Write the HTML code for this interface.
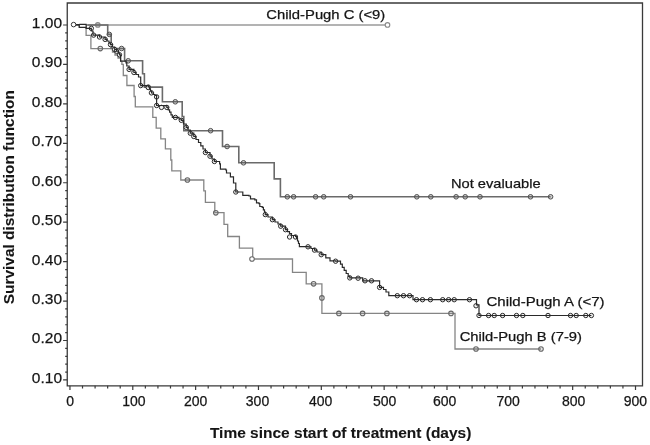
<!DOCTYPE html>
<html><head><meta charset="utf-8"><style>
html,body{margin:0;padding:0;background:#fff;width:650px;height:445px;overflow:hidden}
svg{display:block;will-change:transform}
text{font-family:"Liberation Sans",sans-serif;fill:#151515;stroke:#151515;stroke-width:0.25px}
.yl{font-size:15.5px;text-anchor:end}
.xl{font-size:14px;text-anchor:end}
.tt{font-size:14.6px;font-weight:bold;fill:#151515;stroke-width:0.1px}
.lb{font-size:13.4px}
</style></head><body>
<svg width="650" height="445" viewBox="0 0 650 445">
<path d="M67.25 3 H642.5 V385.8 H67.25 Z" fill="none" stroke="#3a3a3a" stroke-width="1.3"/>
<path d="M63.1 379.96H67.3M65.2 372.07H67.3M65.2 364.18H67.3M65.2 356.30H67.3M65.2 348.41H67.3M63.1 340.52H67.3M65.2 332.63H67.3M65.2 324.74H67.3M65.2 316.86H67.3M65.2 308.97H67.3M63.1 301.08H67.3M65.2 293.19H67.3M65.2 285.30H67.3M65.2 277.42H67.3M65.2 269.53H67.3M63.1 261.64H67.3M65.2 253.75H67.3M65.2 245.86H67.3M65.2 237.98H67.3M65.2 230.09H67.3M63.1 222.20H67.3M65.2 214.31H67.3M65.2 206.42H67.3M65.2 198.54H67.3M65.2 190.65H67.3M63.1 182.76H67.3M65.2 174.87H67.3M65.2 166.98H67.3M65.2 159.10H67.3M65.2 151.21H67.3M63.1 143.32H67.3M65.2 135.43H67.3M65.2 127.54H67.3M65.2 119.66H67.3M65.2 111.77H67.3M63.1 103.88H67.3M65.2 95.99H67.3M65.2 88.10H67.3M65.2 80.22H67.3M65.2 72.33H67.3M63.1 64.44H67.3M65.2 56.55H67.3M65.2 48.66H67.3M65.2 40.78H67.3M65.2 32.89H67.3M63.1 25.00H67.3M69.95 385.8V389.9M82.52 385.8V388.4M95.09 385.8V388.4M107.65 385.8V388.4M120.22 385.8V388.4M132.79 385.8V389.9M145.36 385.8V388.4M157.93 385.8V388.4M170.49 385.8V388.4M183.06 385.8V388.4M195.63 385.8V389.9M208.20 385.8V388.4M220.77 385.8V388.4M233.33 385.8V388.4M245.90 385.8V388.4M258.47 385.8V389.9M271.04 385.8V388.4M283.61 385.8V388.4M296.17 385.8V388.4M308.74 385.8V388.4M321.31 385.8V389.9M333.88 385.8V388.4M346.45 385.8V388.4M359.01 385.8V388.4M371.58 385.8V388.4M384.15 385.8V389.9M396.72 385.8V388.4M409.29 385.8V388.4M421.85 385.8V388.4M434.42 385.8V388.4M446.99 385.8V389.9M459.56 385.8V388.4M472.13 385.8V388.4M484.69 385.8V388.4M497.26 385.8V388.4M509.83 385.8V389.9M522.40 385.8V388.4M534.97 385.8V388.4M547.53 385.8V388.4M560.10 385.8V388.4M572.67 385.8V389.9M585.24 385.8V388.4M597.81 385.8V388.4M610.37 385.8V388.4M622.94 385.8V388.4M635.51 385.8V389.9" stroke="#3a3a3a" stroke-width="1.2" fill="none"/>
<text x="62.0" y="382.86" class="yl">0.10</text>
<text x="62.0" y="343.42" class="yl">0.20</text>
<text x="62.0" y="303.98" class="yl">0.30</text>
<text x="62.0" y="264.54" class="yl">0.40</text>
<text x="62.0" y="225.10" class="yl">0.50</text>
<text x="62.0" y="185.66" class="yl">0.60</text>
<text x="62.0" y="146.22" class="yl">0.70</text>
<text x="62.0" y="106.78" class="yl">0.80</text>
<text x="62.0" y="67.34" class="yl">0.90</text>
<text x="62.0" y="27.90" class="yl">1.00</text>
<text x="74.00" y="405.6" class="xl">0</text>
<text x="145.60" y="405.6" class="xl">100</text>
<text x="207.40" y="405.6" class="xl">200</text>
<text x="269.20" y="405.6" class="xl">300</text>
<text x="332.40" y="405.6" class="xl">400</text>
<text x="396.40" y="405.6" class="xl">500</text>
<text x="456.40" y="405.6" class="xl">600</text>
<text x="519.90" y="405.6" class="xl">700</text>
<text x="585.40" y="405.6" class="xl">800</text>
<text x="647.10" y="405.6" class="xl">900</text>
<text x="209.9" y="437.9" class="tt" textLength="261.5" lengthAdjust="spacingAndGlyphs">Time since start of treatment (days)</text>
<text transform="translate(14.1 304.2) rotate(-90)" x="0" y="0" class="tt" textLength="214.1" lengthAdjust="spacingAndGlyphs">Survival distribution function</text>
<text x="266.3" y="19.1" class="lb" textLength="119.0" lengthAdjust="spacingAndGlyphs">Child-Pugh C (&lt;9)</text>
<text x="451.0" y="187.5" class="lb" textLength="89.6" lengthAdjust="spacingAndGlyphs">Not evaluable</text>
<text x="486.5" y="305.7" class="lb" textLength="118.0" lengthAdjust="spacingAndGlyphs">Child-Pugh A (&lt;7)</text>
<text x="459.7" y="340.6" class="lb" textLength="122.3" lengthAdjust="spacingAndGlyphs">Child-Pugh B (7-9)</text>
<circle cx="97.8" cy="24.9" r="2.3" fill="#c8c8c8" stroke="none" stroke-width="0"/><circle cx="387.5" cy="24.9" r="2.3" fill="#fff" stroke="none" stroke-width="0"/>
<path d="M88 25.0H387.3" stroke="#9a9a9a" stroke-width="1.6" fill="none"/>
<circle cx="97.8" cy="24.9" r="2.3" fill="none" stroke="#8a8a8a" stroke-width="1.1"/><circle cx="387.5" cy="24.9" r="2.3" fill="#fff" stroke="#8a8a8a" stroke-width="1.1"/>
<circle cx="100.3" cy="48.6" r="2.3" fill="#e6e6e6" stroke="none" stroke-width="0"/><circle cx="187.4" cy="180.0" r="2.3" fill="#e6e6e6" stroke="none" stroke-width="0"/><circle cx="215.8" cy="212.8" r="2.3" fill="#e6e6e6" stroke="none" stroke-width="0"/><circle cx="252.0" cy="259.0" r="2.3" fill="#fff" stroke="none" stroke-width="0"/><circle cx="313.6" cy="283.8" r="2.3" fill="#e6e6e6" stroke="none" stroke-width="0"/><circle cx="321.9" cy="297.9" r="2.3" fill="#e6e6e6" stroke="none" stroke-width="0"/><circle cx="338.9" cy="313.4" r="2.3" fill="#e6e6e6" stroke="none" stroke-width="0"/><circle cx="362.6" cy="313.4" r="2.3" fill="#e6e6e6" stroke="none" stroke-width="0"/><circle cx="386.9" cy="313.4" r="2.3" fill="#e6e6e6" stroke="none" stroke-width="0"/><circle cx="451.0" cy="313.4" r="2.3" fill="#e6e6e6" stroke="none" stroke-width="0"/><circle cx="476.0" cy="349.0" r="2.3" fill="#e6e6e6" stroke="none" stroke-width="0"/><circle cx="541.0" cy="349.0" r="2.3" fill="#e6e6e6" stroke="none" stroke-width="0"/>
<path d="M75.0 25.0H86.1V35.4H90.9V48.6H112.5V52.0H115.0V55.0H118.0V58.0H120.6V61.2H121.9V64.4H123.3V75.5H126.9V85.5H134.1V96.5H135.3V106.8H152.8V117.3H156.2V128.1H160.8V138.8H165.4V148.8H170.8V160.0H171.8V170.8H180.8V180.0H203.8V190.8H205.4V202.3H214.8V212.7H224.0V224.4H227.7V236.5H239.4V248.1H252.7V259.0H292.5V272.4H306.2V283.8H321.9V313.4H455.0V349.0H541.0V349.0" stroke="#858585" stroke-width="1.3" fill="none"/>
<circle cx="100.3" cy="48.6" r="2.3" fill="none" stroke="#666" stroke-width="1.05"/><circle cx="187.4" cy="180.0" r="2.3" fill="none" stroke="#666" stroke-width="1.05"/><circle cx="215.8" cy="212.8" r="2.3" fill="none" stroke="#666" stroke-width="1.05"/><circle cx="252.0" cy="259.0" r="2.3" fill="#fff" stroke="#666" stroke-width="1.05"/><circle cx="313.6" cy="283.8" r="2.3" fill="none" stroke="#666" stroke-width="1.05"/><circle cx="321.9" cy="297.9" r="2.3" fill="none" stroke="#666" stroke-width="1.05"/><circle cx="338.9" cy="313.4" r="2.3" fill="none" stroke="#666" stroke-width="1.05"/><circle cx="362.6" cy="313.4" r="2.3" fill="none" stroke="#666" stroke-width="1.05"/><circle cx="386.9" cy="313.4" r="2.3" fill="none" stroke="#666" stroke-width="1.05"/><circle cx="451.0" cy="313.4" r="2.3" fill="none" stroke="#666" stroke-width="1.05"/><circle cx="476.0" cy="349.0" r="2.3" fill="none" stroke="#666" stroke-width="1.05"/><circle cx="541.0" cy="349.0" r="2.3" fill="none" stroke="#666" stroke-width="1.05"/>
<circle cx="109.3" cy="34.4" r="2.3" fill="#d0d0d0" stroke="none" stroke-width="0"/><circle cx="121.6" cy="48.5" r="2.3" fill="#d0d0d0" stroke="none" stroke-width="0"/><circle cx="128.2" cy="60.8" r="2.3" fill="#d0d0d0" stroke="none" stroke-width="0"/><circle cx="148.2" cy="87.1" r="2.3" fill="#d0d0d0" stroke="none" stroke-width="0"/><circle cx="175.3" cy="101.8" r="2.3" fill="#d0d0d0" stroke="none" stroke-width="0"/><circle cx="210.6" cy="130.7" r="2.3" fill="#d0d0d0" stroke="none" stroke-width="0"/><circle cx="227.1" cy="146.5" r="2.3" fill="#d0d0d0" stroke="none" stroke-width="0"/><circle cx="243.5" cy="162.8" r="2.3" fill="#d0d0d0" stroke="none" stroke-width="0"/><circle cx="287.3" cy="196.8" r="2.3" fill="#d0d0d0" stroke="none" stroke-width="0"/><circle cx="293.6" cy="196.8" r="2.3" fill="#d0d0d0" stroke="none" stroke-width="0"/><circle cx="315.6" cy="196.8" r="2.3" fill="#d0d0d0" stroke="none" stroke-width="0"/><circle cx="323.7" cy="196.8" r="2.3" fill="#d0d0d0" stroke="none" stroke-width="0"/><circle cx="350.5" cy="196.8" r="2.3" fill="#d0d0d0" stroke="none" stroke-width="0"/><circle cx="416.8" cy="196.8" r="2.3" fill="#d0d0d0" stroke="none" stroke-width="0"/><circle cx="430.8" cy="196.8" r="2.3" fill="#d0d0d0" stroke="none" stroke-width="0"/><circle cx="456.1" cy="196.8" r="2.3" fill="#d0d0d0" stroke="none" stroke-width="0"/><circle cx="465.2" cy="196.8" r="2.3" fill="#d0d0d0" stroke="none" stroke-width="0"/><circle cx="480.0" cy="196.8" r="2.3" fill="#d0d0d0" stroke="none" stroke-width="0"/><circle cx="530.5" cy="196.8" r="2.3" fill="#d0d0d0" stroke="none" stroke-width="0"/><circle cx="550.6" cy="196.8" r="2.3" fill="#d0d0d0" stroke="none" stroke-width="0"/>
<path d="M75.0 25.0H107.7V34.4H111.2V48.5H124.6V60.8H142.6V73.8H144.4V87.1H162.4V101.8H182.2V116.5H183.8V130.7H222.5V146.5H238.8V162.8H274.2V178.9H280.4V196.8H550.6V196.8" stroke="#6a6a6a" stroke-width="1.6" fill="none"/>
<circle cx="109.3" cy="34.4" r="2.3" fill="none" stroke="#505050" stroke-width="1.0"/><circle cx="121.6" cy="48.5" r="2.3" fill="none" stroke="#505050" stroke-width="1.0"/><circle cx="128.2" cy="60.8" r="2.3" fill="none" stroke="#505050" stroke-width="1.0"/><circle cx="148.2" cy="87.1" r="2.3" fill="none" stroke="#505050" stroke-width="1.0"/><circle cx="175.3" cy="101.8" r="2.3" fill="none" stroke="#505050" stroke-width="1.0"/><circle cx="210.6" cy="130.7" r="2.3" fill="none" stroke="#505050" stroke-width="1.0"/><circle cx="227.1" cy="146.5" r="2.3" fill="none" stroke="#505050" stroke-width="1.0"/><circle cx="243.5" cy="162.8" r="2.3" fill="none" stroke="#505050" stroke-width="1.0"/><circle cx="287.3" cy="196.8" r="2.3" fill="none" stroke="#505050" stroke-width="1.0"/><circle cx="293.6" cy="196.8" r="2.3" fill="none" stroke="#505050" stroke-width="1.0"/><circle cx="315.6" cy="196.8" r="2.3" fill="none" stroke="#505050" stroke-width="1.0"/><circle cx="323.7" cy="196.8" r="2.3" fill="none" stroke="#505050" stroke-width="1.0"/><circle cx="350.5" cy="196.8" r="2.3" fill="none" stroke="#505050" stroke-width="1.0"/><circle cx="416.8" cy="196.8" r="2.3" fill="none" stroke="#505050" stroke-width="1.0"/><circle cx="430.8" cy="196.8" r="2.3" fill="none" stroke="#505050" stroke-width="1.0"/><circle cx="456.1" cy="196.8" r="2.3" fill="none" stroke="#505050" stroke-width="1.0"/><circle cx="465.2" cy="196.8" r="2.3" fill="none" stroke="#505050" stroke-width="1.0"/><circle cx="480.0" cy="196.8" r="2.3" fill="none" stroke="#505050" stroke-width="1.0"/><circle cx="530.5" cy="196.8" r="2.3" fill="none" stroke="#505050" stroke-width="1.0"/><circle cx="550.6" cy="196.8" r="2.3" fill="none" stroke="#505050" stroke-width="1.0"/>
<circle cx="91.3" cy="28.3" r="2.2" fill="#f2f2f2" stroke="none" stroke-width="0"/><circle cx="93.6" cy="35.1" r="2.2" fill="#f2f2f2" stroke="none" stroke-width="0"/><circle cx="99.5" cy="37.0" r="2.2" fill="#f2f2f2" stroke="none" stroke-width="0"/><circle cx="105.1" cy="39.4" r="2.2" fill="#f2f2f2" stroke="none" stroke-width="0"/><circle cx="110.5" cy="44.6" r="2.2" fill="#f2f2f2" stroke="none" stroke-width="0"/><circle cx="114.7" cy="49.5" r="2.2" fill="#f2f2f2" stroke="none" stroke-width="0"/><circle cx="116.6" cy="51.2" r="2.2" fill="#f2f2f2" stroke="none" stroke-width="0"/><circle cx="119.5" cy="54.8" r="2.2" fill="#f2f2f2" stroke="none" stroke-width="0"/><circle cx="129.1" cy="69.4" r="2.2" fill="#f2f2f2" stroke="none" stroke-width="0"/><circle cx="133.9" cy="72.5" r="2.2" fill="#f2f2f2" stroke="none" stroke-width="0"/><circle cx="140.7" cy="85.6" r="2.2" fill="#f2f2f2" stroke="none" stroke-width="0"/><circle cx="148.3" cy="87.5" r="2.2" fill="#f2f2f2" stroke="none" stroke-width="0"/><circle cx="151.4" cy="92.9" r="2.2" fill="#f2f2f2" stroke="none" stroke-width="0"/><circle cx="156.6" cy="96.9" r="2.2" fill="#f2f2f2" stroke="none" stroke-width="0"/><circle cx="156.6" cy="105.5" r="2.2" fill="#f2f2f2" stroke="none" stroke-width="0"/><circle cx="161.5" cy="107.4" r="2.2" fill="#f2f2f2" stroke="none" stroke-width="0"/><circle cx="166.8" cy="107.4" r="2.2" fill="#f2f2f2" stroke="none" stroke-width="0"/><circle cx="175.4" cy="117.4" r="2.2" fill="#f2f2f2" stroke="none" stroke-width="0"/><circle cx="181.3" cy="120.3" r="2.2" fill="#f2f2f2" stroke="none" stroke-width="0"/><circle cx="186.2" cy="127.3" r="2.2" fill="#f2f2f2" stroke="none" stroke-width="0"/><circle cx="190.3" cy="133.2" r="2.2" fill="#f2f2f2" stroke="none" stroke-width="0"/><circle cx="193.8" cy="136.5" r="2.2" fill="#f2f2f2" stroke="none" stroke-width="0"/><circle cx="205.4" cy="152.5" r="2.2" fill="#f2f2f2" stroke="none" stroke-width="0"/><circle cx="210.0" cy="156.2" r="2.2" fill="#f2f2f2" stroke="none" stroke-width="0"/><circle cx="214.4" cy="161.5" r="2.2" fill="#f2f2f2" stroke="none" stroke-width="0"/><circle cx="235.8" cy="192.0" r="2.2" fill="#f2f2f2" stroke="none" stroke-width="0"/><circle cx="265.3" cy="214.6" r="2.2" fill="#f2f2f2" stroke="none" stroke-width="0"/><circle cx="272.4" cy="219.7" r="2.2" fill="#f2f2f2" stroke="none" stroke-width="0"/><circle cx="280.7" cy="226.2" r="2.2" fill="#f2f2f2" stroke="none" stroke-width="0"/><circle cx="285.5" cy="229.7" r="2.2" fill="#f2f2f2" stroke="none" stroke-width="0"/><circle cx="289.6" cy="237.0" r="2.2" fill="#f2f2f2" stroke="none" stroke-width="0"/><circle cx="295.5" cy="237.0" r="2.2" fill="#f2f2f2" stroke="none" stroke-width="0"/><circle cx="308.0" cy="246.8" r="2.2" fill="#f2f2f2" stroke="none" stroke-width="0"/><circle cx="314.5" cy="250.1" r="2.2" fill="#f2f2f2" stroke="none" stroke-width="0"/><circle cx="321.2" cy="254.7" r="2.2" fill="#f2f2f2" stroke="none" stroke-width="0"/><circle cx="335.6" cy="261.2" r="2.2" fill="#f2f2f2" stroke="none" stroke-width="0"/><circle cx="349.8" cy="277.9" r="2.2" fill="#f2f2f2" stroke="none" stroke-width="0"/><circle cx="358.1" cy="278.2" r="2.2" fill="#f2f2f2" stroke="none" stroke-width="0"/><circle cx="365.0" cy="280.8" r="2.2" fill="#f2f2f2" stroke="none" stroke-width="0"/><circle cx="371.5" cy="280.8" r="2.2" fill="#f2f2f2" stroke="none" stroke-width="0"/><circle cx="379.6" cy="287.4" r="2.2" fill="#f2f2f2" stroke="none" stroke-width="0"/><circle cx="397.3" cy="295.7" r="2.2" fill="#f2f2f2" stroke="none" stroke-width="0"/><circle cx="403.5" cy="295.7" r="2.2" fill="#f2f2f2" stroke="none" stroke-width="0"/><circle cx="409.6" cy="295.7" r="2.2" fill="#f2f2f2" stroke="none" stroke-width="0"/><circle cx="416.5" cy="299.7" r="2.2" fill="#f2f2f2" stroke="none" stroke-width="0"/><circle cx="422.5" cy="299.7" r="2.2" fill="#f2f2f2" stroke="none" stroke-width="0"/><circle cx="430.4" cy="299.7" r="2.2" fill="#f2f2f2" stroke="none" stroke-width="0"/><circle cx="442.7" cy="299.7" r="2.2" fill="#f2f2f2" stroke="none" stroke-width="0"/><circle cx="448.6" cy="299.7" r="2.2" fill="#f2f2f2" stroke="none" stroke-width="0"/><circle cx="454.2" cy="299.7" r="2.2" fill="#f2f2f2" stroke="none" stroke-width="0"/><circle cx="469.5" cy="299.7" r="2.2" fill="#f2f2f2" stroke="none" stroke-width="0"/><circle cx="476.0" cy="305.8" r="2.2" fill="#f2f2f2" stroke="none" stroke-width="0"/><circle cx="479.0" cy="315.5" r="2.2" fill="#f2f2f2" stroke="none" stroke-width="0"/><circle cx="488.6" cy="315.5" r="2.2" fill="#f2f2f2" stroke="none" stroke-width="0"/><circle cx="494.2" cy="315.5" r="2.2" fill="#f2f2f2" stroke="none" stroke-width="0"/><circle cx="502.6" cy="315.5" r="2.2" fill="#f2f2f2" stroke="none" stroke-width="0"/><circle cx="516.5" cy="315.5" r="2.2" fill="#f2f2f2" stroke="none" stroke-width="0"/><circle cx="522.8" cy="315.5" r="2.2" fill="#f2f2f2" stroke="none" stroke-width="0"/><circle cx="548.0" cy="315.5" r="2.2" fill="#f2f2f2" stroke="none" stroke-width="0"/><circle cx="570.5" cy="315.5" r="2.2" fill="#f2f2f2" stroke="none" stroke-width="0"/><circle cx="576.2" cy="315.5" r="2.2" fill="#f2f2f2" stroke="none" stroke-width="0"/><circle cx="585.8" cy="315.5" r="2.2" fill="#f2f2f2" stroke="none" stroke-width="0"/><circle cx="591.4" cy="315.5" r="2.2" fill="#f2f2f2" stroke="none" stroke-width="0"/>
<path d="M75.0 24.6H79.3V27.2H86.1V28.3H91.3V31.0H93.0V35.1H99.5V37.0H105.1V39.4H107.0V41.0H109.0V43.0H110.5V44.6H112.5V47.0H114.7V49.5H116.6V51.2H118.5V53.0H119.5V54.8H120.6V61.2H126.0V62.8H126.8V66.0H129.1V69.4H133.9V72.5H136.0V74.5H138.5V77.0H140.7V79.3H140.7V85.6H148.3V86.9H149.5V89.0H150.5V91.0H151.6V93.0H153.5V94.5H155.0V95.5H156.6V96.9H156.6V105.5H166.8V107.4H168.2V109.8H169.6V112.2H171.0V114.8H172.3V117.3H177.0V117.3H179.0V119.0H181.3V120.4H183.5V124.0H186.2V127.3H188.0V130.0H190.3V133.2H193.8V136.5H196.0V139.5H198.5V142.5H200.8V145.8H203.0V149.0H205.4V152.5H210.0V156.2H212.0V159.0H214.4V161.5H219.6V163.8H220.4V169.2H225.8V170.0H226.5V173.0H230.4V176.9H233.5V177.7H233.5V183.0H235.8V192.0H242.8V195.3H249.0V196.0H250.5V198.8H254.8V199.8H256.5V202.8H259.0V203.6H259.8V206.5H262.2V207.3H263.4V209.8H264.5V212.0H265.3V214.6H268.0V217.0H272.4V219.7H275.0V222.0H278.0V224.0H280.7V226.2H285.5V229.7H287.5V231.6H289.5V233.6H291.5V235.5H295.6V236.5H296.5V238.5H297.5V241.0H298.5V243.5H299.4V246.6H308.0V246.8H311.0V248.5H314.5V250.1H317.0V252.0H321.2V254.7H325.8V257.8H330.0V260.8H335.6V261.2H340.5V264.2H342.3V267.3H344.2V270.4H346.2V273.5H348.2V276.3H349.8V277.9H362.7V280.8H379.6V284.0H379.6V287.4H383.5V289.5H386.0V292.0H388.8V295.7H413.0V299.7H476.5V304.8H479.0V315.5H591.4V315.5" stroke="#2a2a2a" stroke-width="1.2" fill="none"/>
<circle cx="91.3" cy="28.3" r="2.2" fill="none" stroke="#2a2a2a" stroke-width="1.0"/><circle cx="93.6" cy="35.1" r="2.2" fill="none" stroke="#2a2a2a" stroke-width="1.0"/><circle cx="99.5" cy="37.0" r="2.2" fill="none" stroke="#2a2a2a" stroke-width="1.0"/><circle cx="105.1" cy="39.4" r="2.2" fill="none" stroke="#2a2a2a" stroke-width="1.0"/><circle cx="110.5" cy="44.6" r="2.2" fill="none" stroke="#2a2a2a" stroke-width="1.0"/><circle cx="114.7" cy="49.5" r="2.2" fill="none" stroke="#2a2a2a" stroke-width="1.0"/><circle cx="116.6" cy="51.2" r="2.2" fill="none" stroke="#2a2a2a" stroke-width="1.0"/><circle cx="119.5" cy="54.8" r="2.2" fill="none" stroke="#2a2a2a" stroke-width="1.0"/><circle cx="129.1" cy="69.4" r="2.2" fill="none" stroke="#2a2a2a" stroke-width="1.0"/><circle cx="133.9" cy="72.5" r="2.2" fill="none" stroke="#2a2a2a" stroke-width="1.0"/><circle cx="140.7" cy="85.6" r="2.2" fill="none" stroke="#2a2a2a" stroke-width="1.0"/><circle cx="148.3" cy="87.5" r="2.2" fill="none" stroke="#2a2a2a" stroke-width="1.0"/><circle cx="151.4" cy="92.9" r="2.2" fill="none" stroke="#2a2a2a" stroke-width="1.0"/><circle cx="156.6" cy="96.9" r="2.2" fill="none" stroke="#2a2a2a" stroke-width="1.0"/><circle cx="156.6" cy="105.5" r="2.2" fill="none" stroke="#2a2a2a" stroke-width="1.0"/><circle cx="161.5" cy="107.4" r="2.2" fill="none" stroke="#2a2a2a" stroke-width="1.0"/><circle cx="166.8" cy="107.4" r="2.2" fill="none" stroke="#2a2a2a" stroke-width="1.0"/><circle cx="175.4" cy="117.4" r="2.2" fill="none" stroke="#2a2a2a" stroke-width="1.0"/><circle cx="181.3" cy="120.3" r="2.2" fill="none" stroke="#2a2a2a" stroke-width="1.0"/><circle cx="186.2" cy="127.3" r="2.2" fill="none" stroke="#2a2a2a" stroke-width="1.0"/><circle cx="190.3" cy="133.2" r="2.2" fill="none" stroke="#2a2a2a" stroke-width="1.0"/><circle cx="193.8" cy="136.5" r="2.2" fill="none" stroke="#2a2a2a" stroke-width="1.0"/><circle cx="205.4" cy="152.5" r="2.2" fill="none" stroke="#2a2a2a" stroke-width="1.0"/><circle cx="210.0" cy="156.2" r="2.2" fill="none" stroke="#2a2a2a" stroke-width="1.0"/><circle cx="214.4" cy="161.5" r="2.2" fill="none" stroke="#2a2a2a" stroke-width="1.0"/><circle cx="235.8" cy="192.0" r="2.2" fill="none" stroke="#2a2a2a" stroke-width="1.0"/><circle cx="265.3" cy="214.6" r="2.2" fill="none" stroke="#2a2a2a" stroke-width="1.0"/><circle cx="272.4" cy="219.7" r="2.2" fill="none" stroke="#2a2a2a" stroke-width="1.0"/><circle cx="280.7" cy="226.2" r="2.2" fill="none" stroke="#2a2a2a" stroke-width="1.0"/><circle cx="285.5" cy="229.7" r="2.2" fill="none" stroke="#2a2a2a" stroke-width="1.0"/><circle cx="289.6" cy="237.0" r="2.2" fill="none" stroke="#2a2a2a" stroke-width="1.0"/><circle cx="295.5" cy="237.0" r="2.2" fill="none" stroke="#2a2a2a" stroke-width="1.0"/><circle cx="308.0" cy="246.8" r="2.2" fill="none" stroke="#2a2a2a" stroke-width="1.0"/><circle cx="314.5" cy="250.1" r="2.2" fill="none" stroke="#2a2a2a" stroke-width="1.0"/><circle cx="321.2" cy="254.7" r="2.2" fill="none" stroke="#2a2a2a" stroke-width="1.0"/><circle cx="335.6" cy="261.2" r="2.2" fill="none" stroke="#2a2a2a" stroke-width="1.0"/><circle cx="349.8" cy="277.9" r="2.2" fill="none" stroke="#2a2a2a" stroke-width="1.0"/><circle cx="358.1" cy="278.2" r="2.2" fill="none" stroke="#2a2a2a" stroke-width="1.0"/><circle cx="365.0" cy="280.8" r="2.2" fill="none" stroke="#2a2a2a" stroke-width="1.0"/><circle cx="371.5" cy="280.8" r="2.2" fill="none" stroke="#2a2a2a" stroke-width="1.0"/><circle cx="379.6" cy="287.4" r="2.2" fill="none" stroke="#2a2a2a" stroke-width="1.0"/><circle cx="397.3" cy="295.7" r="2.2" fill="none" stroke="#2a2a2a" stroke-width="1.0"/><circle cx="403.5" cy="295.7" r="2.2" fill="none" stroke="#2a2a2a" stroke-width="1.0"/><circle cx="409.6" cy="295.7" r="2.2" fill="none" stroke="#2a2a2a" stroke-width="1.0"/><circle cx="416.5" cy="299.7" r="2.2" fill="none" stroke="#2a2a2a" stroke-width="1.0"/><circle cx="422.5" cy="299.7" r="2.2" fill="none" stroke="#2a2a2a" stroke-width="1.0"/><circle cx="430.4" cy="299.7" r="2.2" fill="none" stroke="#2a2a2a" stroke-width="1.0"/><circle cx="442.7" cy="299.7" r="2.2" fill="none" stroke="#2a2a2a" stroke-width="1.0"/><circle cx="448.6" cy="299.7" r="2.2" fill="none" stroke="#2a2a2a" stroke-width="1.0"/><circle cx="454.2" cy="299.7" r="2.2" fill="none" stroke="#2a2a2a" stroke-width="1.0"/><circle cx="469.5" cy="299.7" r="2.2" fill="none" stroke="#2a2a2a" stroke-width="1.0"/><circle cx="476.0" cy="305.8" r="2.2" fill="none" stroke="#2a2a2a" stroke-width="1.0"/><circle cx="479.0" cy="315.5" r="2.2" fill="none" stroke="#2a2a2a" stroke-width="1.0"/><circle cx="488.6" cy="315.5" r="2.2" fill="none" stroke="#2a2a2a" stroke-width="1.0"/><circle cx="494.2" cy="315.5" r="2.2" fill="none" stroke="#2a2a2a" stroke-width="1.0"/><circle cx="502.6" cy="315.5" r="2.2" fill="none" stroke="#2a2a2a" stroke-width="1.0"/><circle cx="516.5" cy="315.5" r="2.2" fill="none" stroke="#2a2a2a" stroke-width="1.0"/><circle cx="522.8" cy="315.5" r="2.2" fill="none" stroke="#2a2a2a" stroke-width="1.0"/><circle cx="548.0" cy="315.5" r="2.2" fill="none" stroke="#2a2a2a" stroke-width="1.0"/><circle cx="570.5" cy="315.5" r="2.2" fill="none" stroke="#2a2a2a" stroke-width="1.0"/><circle cx="576.2" cy="315.5" r="2.2" fill="none" stroke="#2a2a2a" stroke-width="1.0"/><circle cx="585.8" cy="315.5" r="2.2" fill="none" stroke="#2a2a2a" stroke-width="1.0"/><circle cx="591.4" cy="315.5" r="2.2" fill="none" stroke="#2a2a2a" stroke-width="1.0"/>
<path d="M75 24.5H79.3V27.4H86.1V24.4H79.3" stroke="#2a2a2a" stroke-width="1.1" fill="#fff"/>
<circle cx="73.6" cy="24.6" r="2.3" fill="#fff" stroke="#333" stroke-width="1.0"/>
</svg></body></html>
